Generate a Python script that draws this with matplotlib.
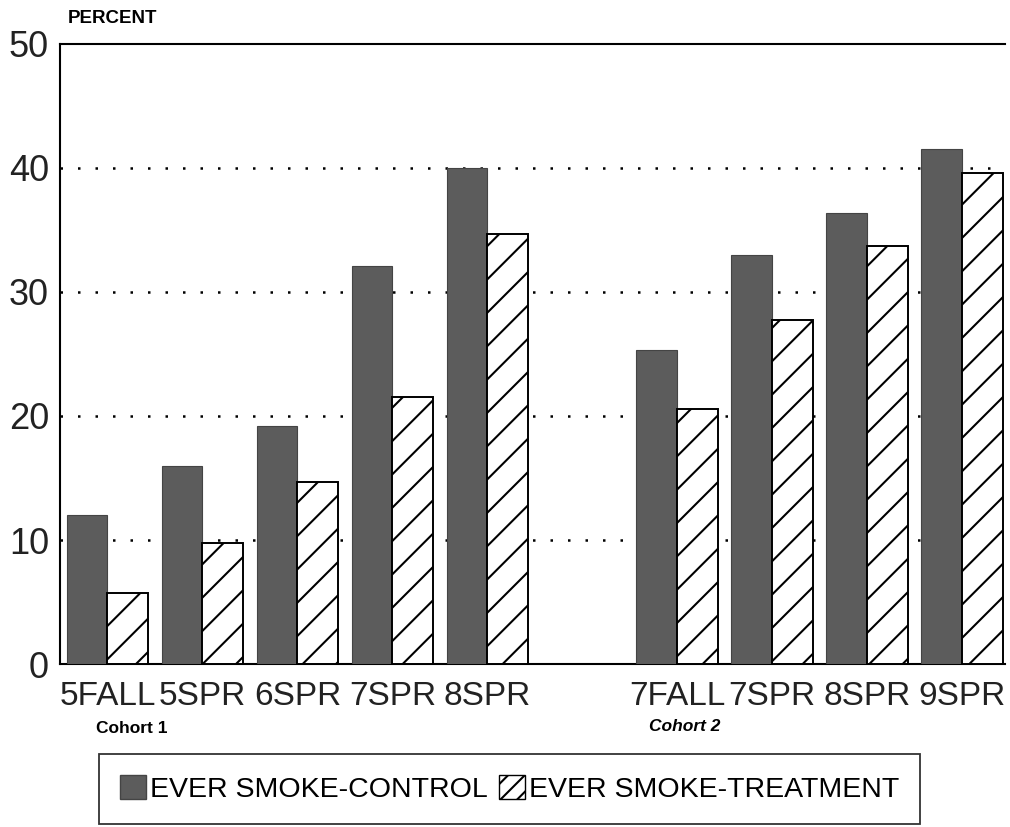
import matplotlib.pyplot as plt
import numpy as np
from matplotlib.patches import Patch

plt.rcParams['font.family'] = ['Liberation Sans', 'DejaVu Sans']
plt.rcParams['hatch.linewidth'] = 1.5

# DATA
labels = ['5FALL', '5SPR', '6SPR', '7SPR', '8SPR', '7FALL', '7SPR', '8SPR', '9SPR']
positions = [0, 1, 2, 3, 4, 6, 7, 8, 9]
control = [12.0, 16.0, 19.2, 32.1, 40.0, 25.3, 33.0, 36.4, 41.5]
treatment = [5.7, 9.8, 14.7, 21.5, 34.7, 20.6, 27.7, 33.7, 39.6]

dark = '#5c5c5c'
w = 0.43

fig = plt.figure(figsize=(10.1, 8.27), dpi=100)
ax = fig.add_axes([0.0594, 0.197, 0.9356, 0.750])

x = np.array(positions)
ax.bar(x - w / 2, control, w, color=dark, edgecolor='#444444', linewidth=0.8, zorder=3)
ax.bar(x + w / 2, treatment, w, color='white', edgecolor='black', hatch='/', linewidth=1.4, zorder=3)

ax.set_xlim(-0.5, 9.45)
ax.set_ylim(0, 50)
ax.set_yticks([0, 10, 20, 30, 40, 50])
ax.set_xticks(x)
ax.set_xticklabels(labels)
ax.tick_params(axis='x', length=0, labelsize=24, colors='#222222', pad=12)
ax.tick_params(axis='y', length=0, labelsize=26, colors='#222222', pad=8)

for y in [10, 20, 30, 40]:
    ax.axhline(y, color='black', linestyle=(0, (1, 6)), linewidth=1.8, zorder=1)

for s in ['left', 'top', 'bottom']:
    ax.spines[s].set_linewidth(1.5)
ax.spines['right'].set_visible(False)

fig.text(0.067, 0.978, 'PERCENT', fontsize=13.5, fontweight='bold', ha='left', va='center')
fig.text(0.130, 0.119, 'Cohort 1', fontsize=12.5, fontweight='bold', ha='center', va='center')
fig.text(0.678, 0.121, 'Cohort 2', fontsize=12.5, fontweight='bold', style='italic', ha='center', va='center')

handles = [Patch(facecolor=dark, edgecolor='#444444'),
           Patch(facecolor='white', edgecolor='black', hatch='//')]
leg = fig.legend(handles, ['EVER SMOKE-CONTROL', 'EVER SMOKE-TREATMENT'],
                 loc='center', bbox_to_anchor=(0.5045, 0.046), ncol=2, fontsize=20.5,
                 frameon=True, fancybox=False, edgecolor='black',
                 handlelength=0.9, handleheight=0.9, handletextpad=0.15,
                 columnspacing=0.4, borderpad=0.75)
leg.get_frame().set_linewidth(1.3)

fig.savefig('out.png', dpi=100)
